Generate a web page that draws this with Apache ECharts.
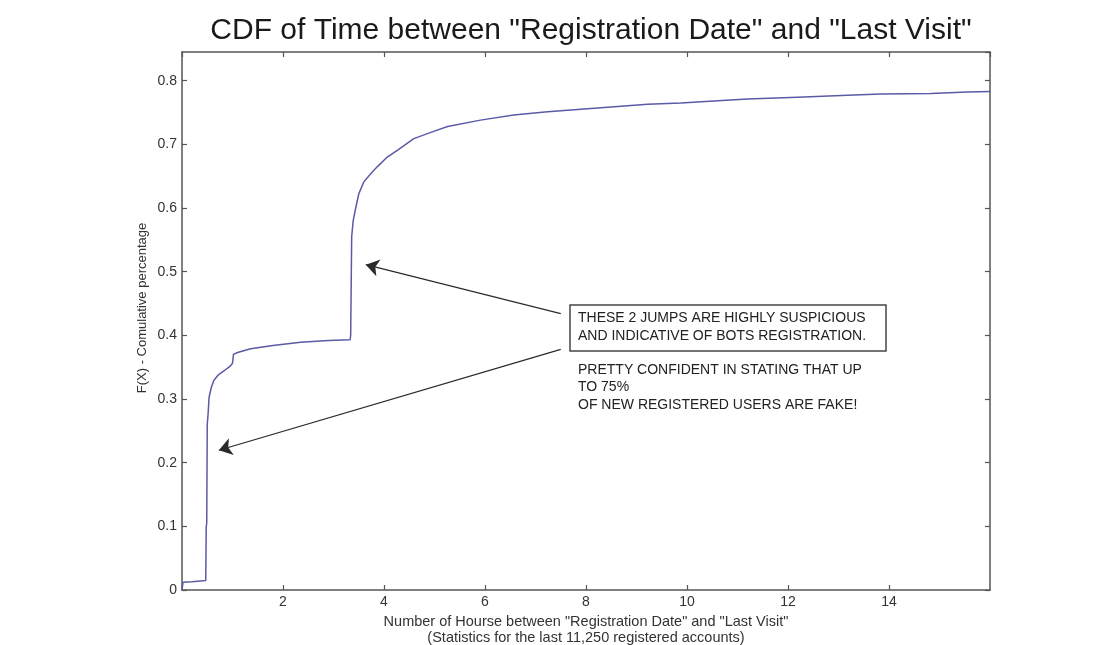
<!DOCTYPE html>
<html>
<head>
<meta charset="utf-8">
<script src="https://cdn.jsdelivr.net/npm/echarts@6/dist/echarts.min.js"></script>
<style>
  html, body { margin: 0; padding: 0; background: #fff; }
  #chart { width: 1119px; height: 645px; }
</style>
</head>
<body>
<div id="chart"></div>
<script>
// hours between registration and last visit
const hours = [0, 0.02, 0.2, 0.47, 0.48, 0.49, 0.5, 0.52, 0.535, 0.58, 0.63, 0.72, 0.83, 0.96, 1.0, 1.02,
  1.1, 1.36, 1.8, 2.35, 2.9, 3.33, 3.34, 3.36, 3.39, 3.44, 3.5, 3.6, 3.75, 3.87, 4.05, 4.27, 4.59, 4.9,
  5.26, 5.91, 6.57, 7.24, 7.9, 8.56, 9.22, 9.88, 10.53, 11.2, 12.19, 13.18, 13.84, 14.83, 15.55, 16]
const cdf = [0, 0.012, 0.013, 0.015, 0.1, 0.105, 0.26, 0.28, 0.302, 0.318, 0.329, 0.338, 0.344, 0.352, 0.356, 0.37,
  0.373, 0.379, 0.384, 0.389, 0.392, 0.393, 0.4, 0.555, 0.58, 0.6, 0.622, 0.641, 0.655, 0.665, 0.679, 0.691, 0.709, 0.718,
  0.728, 0.738, 0.746, 0.751, 0.755, 0.759, 0.763, 0.765, 0.768, 0.771, 0.774, 0.777, 0.779, 0.78, 0.782, 0.783]

// arrows: [tail, head] in data coords
const arrows = [
  [[7.5, 0.434], [3.64, 0.511]],
  [[7.5, 0.378], [0.73, 0.2195]]
]

const titleText = 'CDF of Time between "Registration Date" and "Last Visit"'
const xName = 'Number of Hourse between "Registration Date" and "Last Visit"\n(Statistics for the last 11,250 registered accounts)'
const yName = 'F(X) - Comulative percentage'
const boxLines = 'THESE 2 JUMPS ARE HIGHLY SUSPICIOUS\nAND INDICATIVE OF BOTS REGISTRATION.'
const noteLines = 'PRETTY CONFIDENT IN STATING THAT UP\nTO 75%\nOF NEW REGISTERED USERS ARE FAKE!'

const font = 'Liberation Sans, Arial, sans-serif'
const tick = { inside: true, length: 5, lineStyle: { color: '#555', width: 1.2 } }
const frameLine = { show: true, onZero: false, lineStyle: { color: '#555', width: 1.5 } }

const chart = echarts.init(document.getElementById('chart'))
chart.setOption({
  animation: false,
  textStyle: { fontFamily: font },
  title: {
    text: titleText,
    left: 586,
    textAlign: 'center',
    top: 11,
    textStyle: { fontFamily: font, fontSize: 30, fontWeight: 'normal', color: '#1a1a1a' }
  },
  grid: { left: 182, right: 129, top: 52, bottom: 55, show: false, outerBoundsMode: 'none' },
  xAxis: [{
    type: 'value',
    min: 0,
    max: 16,
    interval: 2,
    name: xName,
    nameLocation: 'middle',
    nameGap: 23,
    nameTextStyle: { fontSize: 14.5, color: '#333', lineHeight: 16, fontFamily: font },
    axisLine: frameLine,
    axisTick: tick,
    axisLabel: { showMinLabel: false, showMaxLabel: false, fontSize: 14, color: '#333', margin: 5 },
    splitLine: { show: false }
  }, {
    type: 'value',
    position: 'top',
    min: 0,
    max: 16,
    interval: 2,
    axisLine: frameLine,
    axisTick: tick,
    axisLabel: { show: false },
    splitLine: { show: false }
  }],
  yAxis: [{
    type: 'value',
    min: 0,
    max: 0.845,
    interval: 0.1,
    axisLine: frameLine,
    axisTick: { show: true, inside: true, length: 5, lineStyle: { color: '#555', width: 1.2 } },
    axisLabel: { showMaxLabel: false, fontSize: 14, color: '#333', margin: 5 },
    splitLine: { show: false }
  }, {
    type: 'value',
    position: 'right',
    min: 0,
    max: 0.845,
    interval: 0.1,
    axisLine: frameLine,
    axisTick: { show: true, inside: true, length: 5, lineStyle: { color: '#555', width: 1.2 } },
    axisLabel: { show: false },
    splitLine: { show: false }
  }],
  series: [{
    name: 'cdf',
    type: 'line',
    data: hours.map((h, i) => [h, cdf[i]]),
    showSymbol: false,
    lineStyle: { color: '#5a5aa6', width: 1.5 },
    silent: true,
    markLine: {
      silent: true,
      symbol: ['none', 'arrow'],
      symbolSize: 13,
      label: { show: false },
      lineStyle: { color: '#2a2a2a', width: 1.2, type: 'solid' },
      emphasis: { disabled: true },
      data: arrows.map(a => [{ coord: a[0] }, { coord: a[1] }])
    }
  }],
  graphic: [{
    type: 'text',
    x: 142,
    y: 308,
    rotation: Math.PI / 2,
    style: { text: yName, fontSize: 13, fill: '#333', fontFamily: font, align: 'center', verticalAlign: 'middle' }
  }, {
    type: 'rect',
    shape: { x: 570, y: 305, width: 316, height: 46 },
    style: { fill: '#fff', stroke: '#444', lineWidth: 1.5 }
  }, {
    type: 'text',
    x: 578,
    y: 309,
    style: { text: boxLines, fontSize: 14, lineHeight: 18, fill: '#222', fontFamily: font }
  }, {
    type: 'text',
    x: 578,
    y: 361,
    style: { text: noteLines, fontSize: 14, lineHeight: 17.5, fill: '#222', fontFamily: font }
  }]
})
</script>
</body>
</html>
